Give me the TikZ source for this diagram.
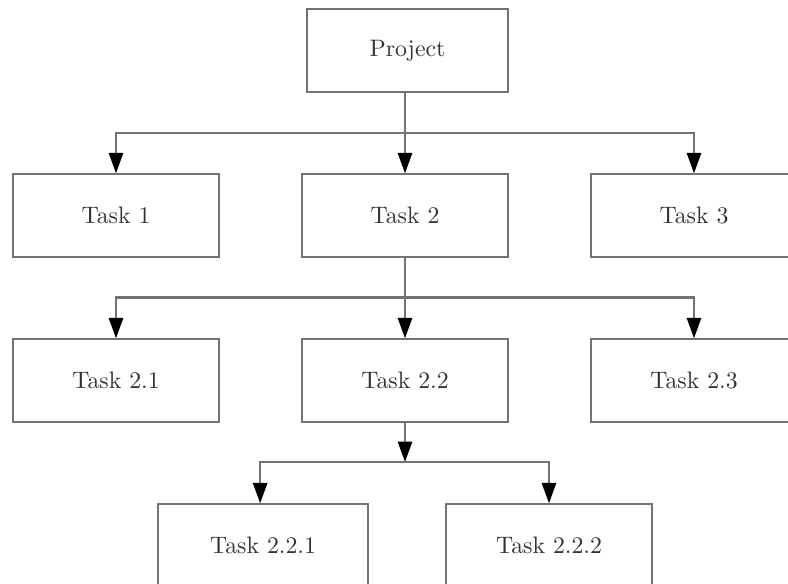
\documentclass[tikz,border=0pt]{standalone}
\usetikzlibrary{arrows.meta}
\begin{document}
\begin{tikzpicture}[x=0.42pt,y=-0.42pt,
  taskbox/.style={draw=black!55, line width=0.85pt, fill=white, text=black!80,
    minimum width=86.5pt, minimum height=34.6pt, inner sep=0pt, font=\fontsize{10}{12}\selectfont},
  link/.style={draw=black!55, line width=0.85pt},
  tolink/.style={link, -{Triangle[width=6pt,length=8.6pt,color=black]}}]
  \useasboundingbox (0,0) rectangle (788,584);
  \clip (0,0) rectangle (788,584);

  % tree of tasks
  \node[taskbox, minimum width=84.4pt] (proj) at (407.5,50.5) {Project};
  \node[taskbox] (t1) at (116,215.5) {Task 1};
  \node[taskbox] (t2) at (405,215.5) {Task 2};
  \node[taskbox] (t3) at (694,215.5) {Task 3};
  \node[taskbox] (t21) at (116,380.5) {Task 2.1};
  \node[taskbox] (t22) at (405,380.5) {Task 2.2};
  \node[taskbox] (t23) at (694,380.5) {Task 2.3};
  \node[taskbox, minimum width=88.5pt] (t221) at (263,545.5) {Task 2.2.1};
  \node[taskbox] (t222) at (549,545.5) {Task 2.2.2};

  % branching points
  \coordinate (b1) at (405,133);
  \coordinate (b2) at (405,297.5);
  \coordinate (b3) at (405,462);

  % level 1
  \draw[tolink] (proj.south -| b1) -- (t2);
  \draw[tolink] (b1) -| (t1.north);
  \draw[tolink] (b1) -| (t3.north);

  % level 2
  \draw[tolink] (t2) -- (t22);
  \draw[tolink] (b2) -| (t21.north);
  \draw[tolink] (b2) -| (t23.north);

  % level 3
  \draw[tolink] (t22) -- (b3);
  \draw[tolink] (b3) -| ([xshift=-1.2pt]t221.north);
  \draw[tolink] (b3) -| (t222.north);
\end{tikzpicture}
\end{document}
